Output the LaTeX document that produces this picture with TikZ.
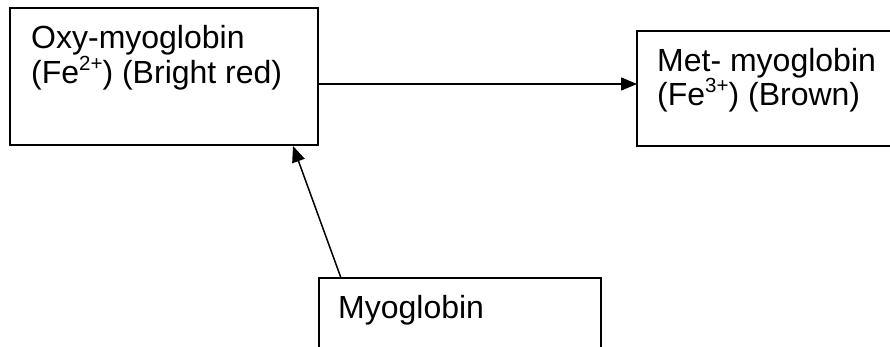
\documentclass[tikz,border=0pt]{standalone}
\usepackage{fontspec}
\setmainfont{Liberation Sans}
\usetikzlibrary{arrows.meta,calc}
\newcommand{\ionsup}[1]{\raisebox{13pt}{\fontsize{20.5}{20.5}\selectfont #1}}
\begin{document}
\begin{tikzpicture}[x=1pt,y=-1pt,
  boxshape/.style={draw=black,line width=1.8pt,fill=white},
  boxtext/.style={anchor=base west,inner sep=0pt,align=left,
    font=\fontsize{32}{34.5}\selectfont},
  link/.style={draw=black,line width=1.5pt,-{Triangle[length=16pt,width=13pt]}}]
  \clip (0,0) rectangle (890,347);
  \fill[white] (0,0) rectangle (890,347);
  % boxes
  \draw[boxshape] (10,8) rectangle (318,145);
  \coordinate (oxyNW) at (10,8);
  \coordinate (oxySE) at (318,145);
  \draw[boxshape] (637,31) rectangle (900,146);
  \coordinate (metNW) at (637,31);
  \coordinate (metSW) at (637,146);
  \draw[boxshape] (319,278) rectangle (601,360);
  \coordinate (myoNW) at (319,278);
  % labels (base west of a two-line node sits on its last line)
  \node[boxtext] (oxy) at ($(oxyNW)+(21,75.5)$) {Oxy-myoglobin\\(Fe\ionsup{2+}) (Bright red)};
  \node[boxtext] (met) at ($(metNW)+(20,75)$) {Met- myoglobin\\(Fe\ionsup{3+}) (Brown)};
  \node[boxtext] (myo) at ($(myoNW)+(19,40)$) {Myoglobin};
  % connectors
  \coordinate (oxyOut) at ($(oxySE)+(0,-61)$);
  \coordinate (metIn) at ($(metSW)+(0,-62)$);
  \draw[link] (oxyOut) -- (metIn);
  \coordinate (myoOut) at ($(myoNW)+(22,0)$);
  \coordinate (oxyIn) at ($(oxySE)+(-25,1)$);
  \draw[link] (myoOut) -- (oxyIn);
\end{tikzpicture}
\end{document}
